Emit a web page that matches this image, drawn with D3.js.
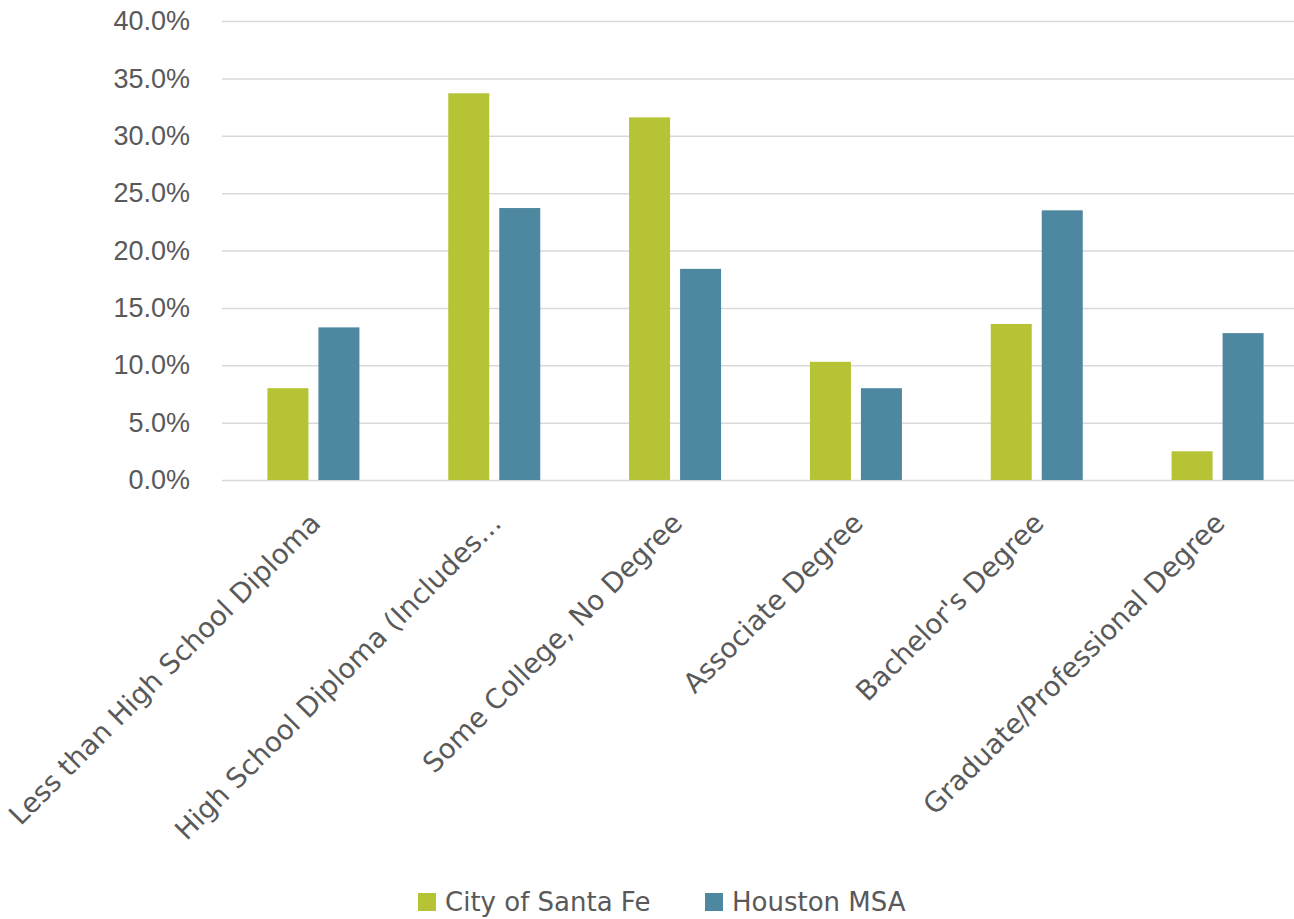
<!DOCTYPE html>
<html lang="en">
<head>
    <meta charset="UTF-8">
    <script src="https://d3js.org/d3.v7.min.js"></script>
    <style>
        body {
            margin: 0;
            padding: 0;
            background-color: #ffffff;
        }
        svg { display: block; }
        .tick-label {
            font-family: "Liberation Sans", Arial, sans-serif;
            font-size: 27px;
            fill: #595959;
        }
        .cat-label, .legend-label {
            font-family: "DejaVu Sans", sans-serif;
            font-size: 26px;
            fill: #595959;
        }
        .cat-label { font-size: 27.5px; }
    </style>
</head>
<body>
    <svg id="chart"></svg>

    <script>
        // Data
        const categories = [
            "Less than High School Diploma",
            "High School Diploma (Includes…",
            "Some College, No Degree",
            "Associate Degree",
            "Bachelor's Degree",
            "Graduate/Professional Degree"
        ];
        const seriesNames = ["City of Santa Fe", "Houston MSA"];
        const santaFe = [8.0, 33.7, 31.6, 10.3, 13.6, 2.5];
        const houston = [13.3, 23.7, 18.4, 8.0, 23.5, 12.8];
        const yTicks = [0, 5, 10, 15, 20, 25, 30, 35, 40];
        const colors = ["#b5c334", "#4d87a0"];

        const W = 1294, H = 919;
        const plot = { left: 222, right: 1308, top: 21, bottom: 480 };

        const svg = d3.select("#chart")
            .attr("width", W)
            .attr("height", H);

        const x = d3.scaleBand()
            .domain(categories)
            .range([plot.left + 1, plot.right]);

        const xInner = d3.scaleBand()
            .domain(seriesNames)
            .range([x.bandwidth() / 2 - 46, x.bandwidth() / 2 + 46])
            .paddingInner(0.196);

        const y = d3.scaleLinear()
            .domain([0, 40])
            .range([plot.bottom, plot.top]);

        // gridlines + tick labels
        const yAxis = d3.axisLeft(y)
            .tickValues(yTicks)
            .tickSize(-(plot.right - plot.left))
            .tickPadding(32)
            .tickFormat(d => d.toFixed(1) + "%");

        const gy = svg.append("g")
            .attr("transform", `translate(${plot.left},0)`)
            .call(yAxis);
        gy.select(".domain").remove();
        gy.selectAll(".tick line")
            .attr("stroke", "#d9d9d9")
            .attr("stroke-width", 1.5);
        gy.selectAll(".tick text")
            .attr("class", "tick-label")
            .attr("font-family", null)
            .attr("font-size", null)
            .attr("fill", null);

        // bars
        const rows = categories.map((c, i) => ({
            cat: c,
            vals: [santaFe[i], houston[i]]
        }));

        const groups = svg.append("g")
            .selectAll("g")
            .data(rows)
            .join("g")
            .attr("transform", d => `translate(${x(d.cat)},0)`);

        groups.selectAll("rect")
            .data(d => d.vals.map((v, j) => ({ name: seriesNames[j], v, j })))
            .join("rect")
            .attr("x", d => xInner(d.name))
            .attr("width", xInner.bandwidth())
            .attr("y", d => y(d.v))
            .attr("height", d => y(0) - y(d.v))
            .attr("fill", d => colors[d.j]);

        // category labels, rotated -45
        svg.append("g")
            .selectAll("text")
            .data(categories)
            .join("text")
            .attr("class", "cat-label")
            .attr("text-anchor", "end")
            .attr("transform", d => `translate(${x(d) + x.bandwidth() / 2 + 2},${518}) rotate(-45)`)
            .attr("dy", "0.35em")
            .text(d => d);

        // legend
        const legend = svg.append("g")
            .attr("transform", "translate(418,893)");
        const legendX = [0, 287];
        seriesNames.forEach((name, i) => {
            const g = legend.append("g").attr("transform", `translate(${legendX[i]},0)`);
            g.append("rect")
                .attr("width", 18)
                .attr("height", 18)
                .attr("fill", colors[i]);
            g.append("text")
                .attr("class", "legend-label")
                .attr("x", 27)
                .attr("y", 9)
                .attr("dy", "0.35em")
                .text(name);
        });
    </script>
</body>
</html>
